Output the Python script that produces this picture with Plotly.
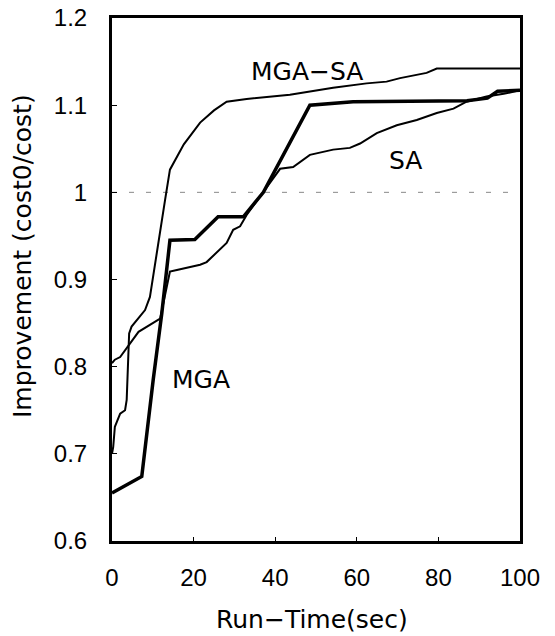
import plotly.graph_objects as go

# Run time (sec) and improvement ratio for each method
mga_sa_t = [0, 0.3, 0.7, 2.0, 3.2, 3.6, 4.2, 4.8, 8.1, 9.3, 13.0, 14.2, 17.6, 21.6,
            25.0, 28.1, 33.0, 43.6, 54.2, 62.4, 67.3, 70.6, 77.1, 79.6, 100]
mga_sa_v = [0.700, 0.708, 0.731, 0.746, 0.750, 0.762, 0.838, 0.846, 0.865, 0.880,
            0.991, 1.026, 1.055, 1.080, 1.094, 1.104, 1.107, 1.112, 1.120, 1.125,
            1.127, 1.131, 1.137, 1.142, 1.142]

sa_t = [0, 0.7, 2.0, 4.4, 6.5, 11.8, 14.2, 15.9, 21.6, 23.2, 28.1, 29.7, 31.4, 33.0,
        37.1, 41.2, 44.4, 48.5, 54.2, 58.3, 60.8, 64.9, 69.8, 74.7, 79.6, 83.7,
        86.9, 91.8, 96.0, 100]
sa_v = [0.804, 0.808, 0.811, 0.827, 0.840, 0.855, 0.909, 0.911, 0.917, 0.920,
        0.942, 0.957, 0.961, 0.974, 1.000, 1.027, 1.029, 1.043, 1.049, 1.051,
        1.056, 1.068, 1.077, 1.083, 1.091, 1.096, 1.104, 1.110, 1.113, 1.117]

mga_t = [0, 7.3, 10.1, 12.2, 14.2, 20.3, 26.0, 32.2, 37.1, 48.5, 59.1, 87.0, 92.0,
         94.5, 100]
mga_v = [0.655, 0.674, 0.785, 0.861, 0.945, 0.946, 0.972, 0.972, 1.000, 1.100,
         1.104, 1.105, 1.108, 1.116, 1.117]

x_ticks = [0, 20, 40, 60, 80, 100]
y_ticks = [0.6, 0.7, 0.8, 0.9, 1.0, 1.1, 1.2]
y_tick_text = ["0.6", "0.7", "0.8", "0.9", "1", "1.1", "1.2"]

labels = ["MGA\u2212SA", "SA", "MGA"]
label_x = [47.8, 72.0, 21.8]
label_y = [1.139, 1.037, 0.785]

fig = go.Figure()
fig.add_trace(go.Scatter(x=mga_sa_t, y=mga_sa_v, mode="lines",
                         line=dict(color="black", width=2), name="MGA-SA"))
fig.add_trace(go.Scatter(x=sa_t, y=sa_v, mode="lines",
                         line=dict(color="black", width=2), name="SA"))
fig.add_trace(go.Scatter(x=mga_t, y=mga_v, mode="lines",
                         line=dict(color="black", width=3.5), name="MGA"))

# dashed reference line at ratio 1
fig.add_shape(type="line", xref="x", yref="y", x0=0, x1=100, y0=1.0, y1=1.0,
              line=dict(color="#888888", width=1, dash="5px,12px"), layer="below")

for txt, lx, ly in zip(labels, label_x, label_y):
    fig.add_annotation(x=lx, y=ly, text=txt, showarrow=False,
                       xanchor="center", yanchor="middle",
                       font=dict(family="DejaVu Sans", size=25, color="black"))

# axis titles as free annotations
fig.add_annotation(xref="paper", yref="paper", x=-0.218, y=0.545,
                   text="Improvement (cost0/cost)", textangle=-90, showarrow=False,
                   xanchor="center", yanchor="middle",
                   font=dict(family="DejaVu Sans", size=25, color="black"))
fig.add_annotation(xref="paper", yref="paper", x=0.49, y=-0.151,
                   text="Run\u2212Time(sec)", showarrow=False,
                   xanchor="center", yanchor="middle",
                   font=dict(family="DejaVu Sans", size=25, color="black"))

fig.update_layout(
    width=555, height=636,
    margin=dict(l=112, r=35, t=18, b=95),
    paper_bgcolor="white", plot_bgcolor="white",
    showlegend=False,
    font=dict(family="Liberation Sans", color="black"),
)
fig.update_xaxes(
    range=[0, 100], tickvals=x_ticks, ticks="inside", ticklen=4, tickwidth=1,
    tickcolor="black", showgrid=False, zeroline=False, automargin=False,
    showline=True, linecolor="black", linewidth=3, mirror=True,
    tickfont=dict(family="Liberation Sans", size=24, color="black"),
    ticklabelstandoff=13,
)
fig.update_yaxes(
    range=[0.6, 1.2], tickvals=y_ticks, ticktext=y_tick_text, ticks="inside",
    ticklen=5, tickwidth=1, tickcolor="black", showgrid=False, zeroline=False,
    automargin=False,
    showline=True, linecolor="black", linewidth=3, mirror=True,
    tickfont=dict(family="Liberation Sans", size=24, color="black"),
    ticklabelstandoff=17,
)

fig.write_html("out.html")
